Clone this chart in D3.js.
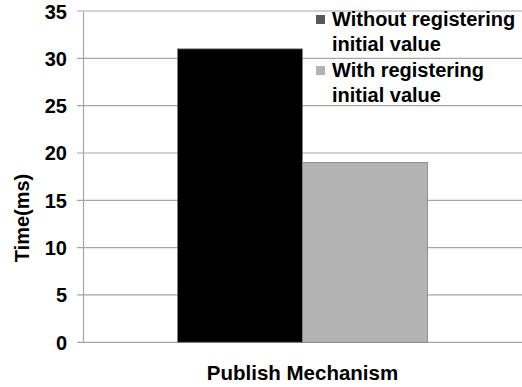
<!DOCTYPE html>
<html><head><meta charset="utf-8">
<script src="https://cdn.jsdelivr.net/npm/d3@7"></script>
<style>body{margin:0;background:#fff}svg{display:block}text{font-family:"Liberation Sans",Arial,sans-serif;font-weight:bold;fill:#000}</style>
</head><body><svg id="c" width="522" height="387"></svg>
<script>
const categories = ["Publish Mechanism"];
const seriesNames = ["Without registering initial value", "With registering initial value"];
const seriesLines = [["Without registering", "initial value"], ["With registering", "initial value"]];
const values = [31, 19];
const seriesColors = ["#000000", "#b3b3b3"];
const legendColors = ["#595959", "#b3b3b3"];
const yTicks = [0, 5, 10, 15, 20, 25, 30, 35];

const svg = d3.select("#c");
const L = 83, R = 522, T = 11, B = 342.3;
const y = d3.scaleLinear().domain([0, 35]).range([B, T]);
const x0 = d3.scaleBand().domain(categories).range([L, R]).paddingInner(0).paddingOuter(0.378);
const x1 = d3.scaleBand().domain(seriesNames).range([0, x0.bandwidth()]);

// grid
svg.append("g").selectAll("line").data(yTicks).join("line")
  .attr("x1", L - 6).attr("x2", R).attr("y1", d => y(d)).attr("y2", d => y(d))
  .attr("stroke", "#a6a6a6").attr("stroke-width", 1.2);

// y axis
const ya = svg.append("g").attr("transform", `translate(${L},0)`)
  .call(d3.axisLeft(y).tickValues(yTicks).tickSize(0).tickPadding(16));
ya.select(".domain").attr("stroke", "#a6a6a6").attr("stroke-width", 1.2);
ya.selectAll("text").style("font-size", "20px").attr("dy", "0.35em");

// bars
const g = svg.append("g");
categories.forEach(c => {
  g.selectAll("rect").data(values).join("rect")
    .attr("x", (d, i) => x0(c) + x1(seriesNames[i]))
    .attr("width", x1.bandwidth())
    .attr("y", d => y(d))
    .attr("height", d => B - y(d))
    .attr("fill", (d, i) => seriesColors[i])
    .attr("stroke", "#808080").attr("stroke-width", 0.8);
});

// x category label
svg.selectAll(".xl").data(categories).join("text").attr("class", "xl")
  .attr("x", d => x0(d) + x0.bandwidth() / 2).attr("y", 380)
  .attr("text-anchor", "middle").style("font-size", "20.5px").text(d => d);

// y title
svg.append("text").attr("transform", "translate(29,218) rotate(-90)")
  .attr("text-anchor", "middle").style("font-size", "20px").text("Time(ms)");

// legend
const lg = svg.append("g");
seriesNames.forEach((s, i) => {
  const top = 15 + i * 51;
  lg.append("rect").attr("x", 316).attr("y", top).attr("width", 9).attr("height", 9).attr("fill", legendColors[i]);
  seriesLines[i].forEach((ln, j) => {
    lg.append("text").attr("x", 332).attr("y", top + 11 + j * 25).style("font-size", "20px").text(ln);
  });
});
</script></body></html>
